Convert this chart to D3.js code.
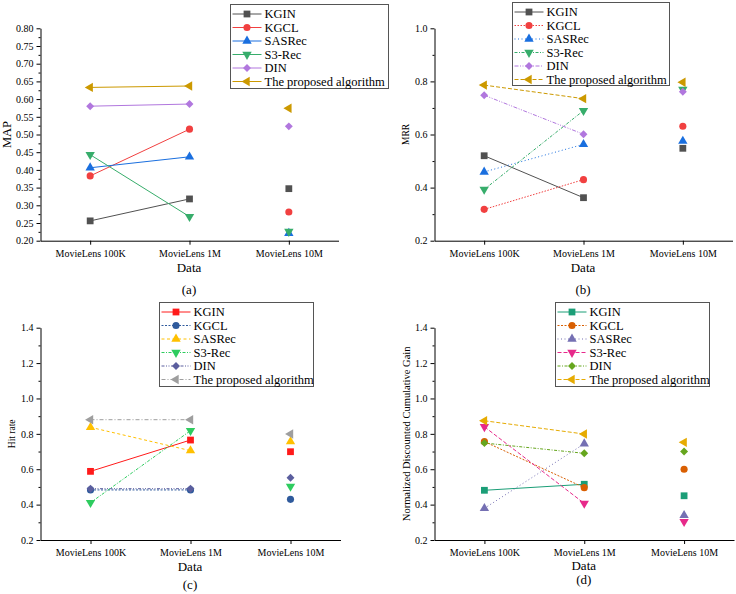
<!DOCTYPE html>
<html>
<head>
<meta charset="utf-8">
<script src="https://cdn.jsdelivr.net/npm/d3@7"></script>
<style>
  body { margin: 0; background: #fff; }
  svg text { font-family: "Liberation Serif", "DejaVu Serif", serif !important; }
</style>
</head>
<body>
<div id="chart"></div>
<script>
const width = 736;
const height = 594;

const categories = ["MovieLens 100K", "MovieLens 1M", "MovieLens 10M"];
const methods = ["KGIN", "KGCL", "SASRec", "S3-Rec", "DIN", "The proposed algorithm"];

// values per method: [100K, 1M, 10M]
const mapValues = [
  [0.256, 0.318, 0.347],
  [0.383, 0.515, 0.281],
  [0.406, 0.437, 0.221],
  [0.443, 0.268, 0.226],
  [0.580, 0.586, 0.523],
  [0.633, 0.637, 0.574]
];
const mrrValues = [
  [0.520, 0.362, 0.548],
  [0.318, 0.430, 0.631],
  [0.459, 0.563, 0.575],
  [0.393, 0.690, 0.770],
  [0.748, 0.601, 0.761],
  [0.786, 0.735, 0.797]
];
const hitValues = [
  [0.588, 0.765, 0.699],
  [0.483, 0.483, 0.430],
  [0.837, 0.705, 0.756],
  [0.411, 0.818, 0.503],
  [0.490, 0.490, 0.552],
  [0.880, 0.880, 0.799]
];
const ndcgValues = [
  [0.481, 0.515, 0.450],
  [0.756, 0.496, 0.600],
  [0.379, 0.744, 0.339],
  [0.840, 0.407, 0.304],
  [0.748, 0.690, 0.700],
  [0.874, 0.799, 0.752]
];

const mapTicks = d3.range(0.20, 0.8001, 0.05);
const mrrTicks = [0.2, 0.4, 0.6, 0.8, 1.0];
const hitTicks = [0.2, 0.4, 0.6, 0.8, 1.0, 1.2, 1.4];

const svg = d3.select("#chart").append("svg")
  .attr("width", width)
  .attr("height", height);

const shapes = [
  d3.symbol().type(d3.symbolSquare).size(46),
  d3.symbol().type(d3.symbolCircle).size(40),
  d3.symbol().type(d3.symbolTriangle).size(38),
  d3.symbol().type(d3.symbolTriangle).size(38),
  d3.symbol().type(d3.symbolDiamond2).size(40),
  d3.symbol().type(d3.symbolTriangle).size(38)
];
const rotations = [0, 0, 0, 180, 0, -90];

function marker(g, i, x, y, color) {
  g.append("path")
    .attr("d", shapes[i]())
    .attr("transform", `translate(${x},${y}) rotate(${rotations[i]})`)
    .attr("fill", color);
}

function drawPanel(p) {
  const x = d3.scalePoint().domain(categories).range([p.left, p.right]).padding(0.5);
  const y = d3.scaleLinear().domain(p.domain).range([p.bottom, p.top]);
  const g = svg.append("g");

  // minor ticks on y
  g.append("g")
    .attr("transform", `translate(${p.left},0)`)
    .call(d3.axisLeft(y).tickValues(p.minor).tickSize(2).tickFormat(""))
    .call(a => a.select(".domain").remove());

  g.append("g")
    .attr("transform", `translate(${p.left},0)`)
    .call(d3.axisLeft(y).tickValues(p.ticks).tickSize(4).tickSizeOuter(0).tickFormat(d3.format(p.fmt)))
    .call(a => a.selectAll("text").attr("font-size", 10));

  g.append("g")
    .attr("transform", `translate(0,${p.bottom})`)
    .call(d3.axisBottom(x).tickSize(4).tickSizeOuter(0))
    .call(a => a.selectAll("text").attr("font-size", 10).attr("dy", "0.9em"));

  g.selectAll(".domain").attr("stroke", "#000");

  g.append("text")
    .attr("x", (p.left + p.right) / 2 - 0.5)
    .attr("y", p.dataY)
    .attr("text-anchor", "middle")
    .attr("font-size", 13)
    .text("Data");

  g.append("text")
    .attr("x", (p.left + p.right) / 2 - 0.5)
    .attr("y", p.captionY)
    .attr("text-anchor", "middle")
    .attr("font-size", 13)
    .text(p.caption);

  g.append("text")
    .attr("transform", `translate(${p.ylabelX},${(p.top + p.bottom) / 2}) rotate(-90)`)
    .attr("text-anchor", "middle")
    .attr("font-size", p.ylabelSize)
    .text(p.ylabel);

  // series: only the first two datasets are joined
  p.values.forEach((vals, i) => {
    g.append("path")
      .datum(vals.slice(0, 2))
      .attr("fill", "none")
      .attr("stroke", p.colors[i])
      .attr("stroke-width", 1)
      .attr("stroke-dasharray", p.dashes[i])
      .attr("d", d3.line().x((d, j) => x(categories[j])).y(d => y(d)));
  });
  p.values.forEach((vals, i) => {
    vals.forEach((v, j) => marker(g, i, x(categories[j]), y(v), p.colors[i]));
  });

  // legend
  const lg = g.append("g");
  lg.append("rect")
    .attr("x", p.legend[0]).attr("y", p.legend[1])
    .attr("width", p.legend[2]).attr("height", p.legend[3])
    .attr("fill", "#fff").attr("stroke", "#555").attr("stroke-width", 1);
  methods.forEach((m, i) => {
    const ly = p.legend[1] + 9.5 + i * 13.5;
    const lx = p.legend[0] + 2;
    lg.append("line")
      .attr("x1", lx).attr("x2", lx + 29)
      .attr("y1", ly).attr("y2", ly)
      .attr("stroke", p.colors[i])
      .attr("stroke-dasharray", p.dashes[i]);
    marker(lg, i, lx + 14.5, ly, p.colors[i]);
    lg.append("text")
      .attr("x", lx + 32)
      .attr("y", ly)
      .attr("dy", "0.35em")
      .attr("font-size", 12.5)
      .text(m);
  });
}

const originColors = ["#515151", "#F14040", "#1A6FDF", "#37AD6B", "#B177DE", "#CC9900"];

drawPanel({
  left: 40.5, right: 338.5, top: 28.3, bottom: 240.7,
  domain: [0.2, 0.8], ticks: mapTicks, minor: d3.range(0.225, 0.8, 0.05), fmt: ".2f",
  values: mapValues, colors: originColors,
  dashes: [null, null, null, null, null, null],
  ylabel: "MAP", ylabelX: 11, ylabelSize: 12.5,
  dataY: 271.5, caption: "(a)", captionY: 294,
  legend: [230.5, 4.5, 158, 84]
});

drawPanel({
  left: 434.5, right: 732.5, top: 28.3, bottom: 240.7,
  domain: [0.2, 1.0], ticks: mrrTicks, minor: [0.3, 0.5, 0.7, 0.9], fmt: ".1f",
  values: mrrValues, colors: originColors,
  dashes: [null, "1.5,1.5", "1,2.5", "3,1.5,1,1.5", "4,1.5,1,1.5,1,1.5", "4,2"],
  ylabel: "MRR", ylabelX: 409, ylabelSize: 9.5,
  dataY: 271.5, caption: "(b)", captionY: 294,
  legend: [512.5, 2.5, 157, 83]
});

drawPanel({
  left: 40.5, right: 340.5, top: 327.7, bottom: 540,
  domain: [0.2, 1.4], ticks: hitTicks, minor: [0.3, 0.5, 0.7, 0.9, 1.1, 1.3], fmt: ".1f",
  values: hitValues, colors: ["#FF1A1A", "#2F5A9C", "#FFC000", "#2ECC5F", "#5B5E9E", "#9E9E9E"],
  dashes: [null, "2,1.5", "3,2.5", "3,1.5,1,1.5", "3,1.5,1,1.5,1,1.5", "4,2,1,2"],
  ylabel: "Hit rate", ylabelX: 15, ylabelSize: 9.5,
  dataY: 571, caption: "(c)", captionY: 589,
  legend: [159.5, 302.5, 154, 84]
});

drawPanel({
  left: 434.5, right: 734, top: 327.7, bottom: 540,
  domain: [0.2, 1.4], ticks: hitTicks, minor: [0.3, 0.5, 0.7, 0.9, 1.1, 1.3], fmt: ".1f",
  values: ndcgValues, colors: ["#1B9E77", "#D95F02", "#7570B3", "#E7298A", "#66A61E", "#E6AB02"],
  dashes: [null, "2,1.5", "1,2.5", "4,2", "3,1.5,1,1.5", "4,2"],
  ylabel: "Normalized Discounted Cumulative Gain", ylabelX: 410, ylabelSize: 10.5,
  dataY: 569.5, caption: "(d)", captionY: 584,
  legend: [555.5, 302.5, 154, 84]
});
</script>
</body>
</html>
